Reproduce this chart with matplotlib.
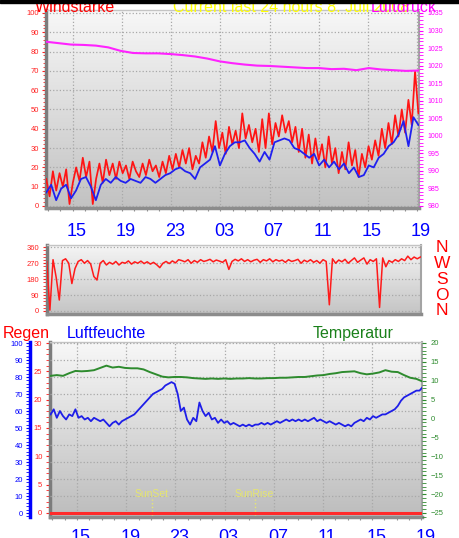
import numpy as np
import matplotlib.pyplot as plt
from matplotlib.ticker import MultipleLocator
from matplotlib.patches import Rectangle
from matplotlib.transforms import ScaledTranslation

plt.rcParams['font.family'] = ['Liberation Sans', 'DejaVu Sans']

# Zeitachse in Stunden ab 15:00 (Vortag)
hour_ticks = [0, 4, 8, 12, 16, 20, 24, 28]
hour_labels = ['15', '19', '23', '03', '07', '11', '15', '19']
t_first, t_last = -2.15, 28.1

# Windstärke (Böen / Mittel), km/h
wind_gust = [14, 5, 18, 8, 17, 10, 19, 1, 12, 20, 13, 25, 15, 23, 1, 14, 22, 12, 24, 16,
             22, 14, 23, 17, 21, 14, 23, 18, 15, 22, 16, 24, 18, 21, 15, 23, 17, 26, 19, 27,
             20, 29, 22, 30, 19, 26, 22, 33, 25, 36, 28, 44, 30, 38, 27, 41, 32, 39, 30, 48,
             35, 42, 33, 40, 28, 45, 30, 48, 32, 43, 36, 47, 38, 44, 33, 41, 28, 40, 25, 37,
             22, 35, 24, 32, 20, 36, 22, 30, 17, 28, 19, 33, 21, 29, 15, 27, 20, 31, 24, 34,
             26, 40, 30, 43, 32, 47, 36, 50, 38, 55, 42, 70, 48]
wind_avg = [7, 11, 3, 9, 11, 4, 8, 14, 15, 10, 3, 11, 14, 12, 15, 13, 12, 14, 13, 12,
            15, 14, 12, 14, 16, 17, 19, 20, 18, 17, 14, 20, 22, 24, 31, 21, 27, 31, 33, 33,
            34, 30, 27, 23, 28, 24, 33, 34, 35, 34, 30, 29, 27, 25, 27, 21, 24, 20, 23, 19,
            22, 17, 20, 15, 16, 21, 20, 25, 27, 31, 33, 37, 44, 31, 46, 42]
# Luftdruck, hPa
pressure = [1026.8, 1026.4, 1026.0, 1025.9, 1025.7, 1025.2, 1024.2, 1023.6, 1023.5, 1023.5,
            1023.3, 1023.0, 1022.6, 1022.0, 1021.2, 1020.7, 1020.3, 1020.0, 1019.9, 1019.7,
            1019.5, 1019.3, 1019.3, 1019.0, 1019.1, 1018.7, 1019.3, 1018.9, 1018.7, 1018.5,
            1018.6]
# Windrichtung, Grad
wind_dir = [280, 5, 290, 190, 62, 285, 295, 270, 155, 240, 280, 290, 270, 285, 265, 195, 175, 270, 285, 260,
            275, 265, 280, 260, 275, 270, 283, 265, 278, 270, 282, 268, 278, 265, 275, 262, 245, 270, 280, 268,
            283, 272, 290, 285, 278, 290, 270, 285, 275, 290, 280, 285, 292, 278, 288, 282, 275, 290, 235, 280,
            292, 283, 295, 280, 290, 278, 287, 292, 275, 290, 283, 295, 278, 290, 282, 288, 275, 290, 280, 285,
            292, 270, 287, 278, 290, 275, 285, 270, 290, 280, 35, 295, 270, 288, 278, 292, 270, 285, 300, 275,
            288, 300, 265, 290, 280, 295, 20, 300, 250, 285, 275, 290, 280, 295, 285, 310, 290, 305, 295, 305]
# Temperatur, °C
temperature = [11.3, 11.5, 11.3, 12.0, 12.6, 12.5, 12.6, 12.8, 13.4, 14.0, 13.5, 13.7, 13.4, 13.3, 13.3,
               13.0, 12.3, 11.7, 11.1, 10.9, 11.0, 11.0, 10.9, 10.7, 10.6, 10.5, 10.6, 10.5, 10.6, 10.5,
               10.6, 10.6, 10.7, 10.6, 10.6, 10.7, 10.7, 10.8, 10.8, 10.9, 11.0, 11.0, 11.2, 11.4, 11.5,
               11.8, 12.0, 12.3, 12.4, 12.5, 12.0, 11.7, 11.9, 12.2, 12.8, 12.4, 12.3, 11.5, 10.8, 10.5, 9.8]
# Luftfeuchte, %
humidity = [58, 61, 56, 60, 57, 55, 58, 57, 61, 56, 57, 55, 56, 54, 56, 55, 54, 55, 53, 51,
            53, 54, 52, 54, 55, 56, 57, 58, 60, 62, 64, 66, 68, 70, 71, 72, 73, 75, 76, 77,
            76, 70, 60, 62, 55, 52, 56, 54, 65, 60, 57, 59, 55, 56, 53, 55, 53, 54, 52, 53,
            52, 51, 52, 51, 52, 51, 52, 52, 53, 52, 53, 52, 53, 54, 53, 54, 55, 54, 55, 54,
            55, 54, 55, 54, 55, 56, 54, 55, 54, 53, 54, 53, 52, 53, 52, 51, 52, 51, 53, 54,
            55, 54, 56, 55, 57, 56, 57, 58, 58, 59, 60, 61, 63, 66, 68, 69, 70, 71, 72, 72, 74]
# Regen, mm
rain = [0, 0, 0, 0, 0, 0, 0, 0, 0, 0, 0, 0, 0, 0, 0, 0]
sunset, sunrise = 6.07, 14.45

W, H = 460, 538
fig = plt.figure(figsize=(W / 100, H / 100), dpi=100)
fig.patch.set_facecolor('white')


def box(x0, y0, x1, y1):
    return [x0 / W, 1 - y1 / H, (x1 - x0) / W, (y1 - y0) / H]


def shade(a, top, bottom):
    g = np.linspace(top, bottom, 200)[:, None]
    a.imshow(np.dstack([g, g, g]), extent=[0, 1, 0, 1], transform=a.transAxes,
             aspect='auto', zorder=0, interpolation='bilinear')


def frame(a):
    a.spines['left'].set(color='#7c7c7c', lw=2.5)
    a.spines['bottom'].set(color='#8c8c8c', lw=2.5)
    a.spines['top'].set(color='#c4c4c4', lw=1)
    a.spines['right'].set(color='#a4a4a4', lw=1.5)


def hide(a):
    for s in a.spines.values():
        s.set_visible(False)


def hours(a, pad):
    a.set_xticks(hour_ticks, hour_labels)
    a.xaxis.set_minor_locator(MultipleLocator(1))
    a.tick_params(axis='x', which='both', color='#909090', length=2.5, width=0.8,
                  labelsize=13, labelcolor='#0000ff', pad=pad)
    off = ScaledTranslation(4 / 100, 0, fig.dpi_scale_trans)
    for lbl in a.get_xticklabels():
        lbl.set_transform(lbl.get_transform() + off)


grid_kw = dict(color='#a8a8a8', ls=':', lw=0.9)

# ---- Wind + Luftdruck ----
ax = fig.add_axes(box(46.5, 10, 419, 208))
shade(ax, 0.97, 0.76)
t = np.linspace(t_first, t_last, len(wind_gust))
ax.plot(t, wind_gust, color='#ff1414', lw=1.25, zorder=3)
t = np.linspace(t_first, t_last, len(wind_avg))
ax.plot(t, wind_avg, color='#2020f0', lw=1.3, zorder=4)
ax.set_xlim(-2.13, 28.15)
ax.set_ylim(-1.04, 101.55)
ax.set_yticks(range(0, 101, 10))
ax.yaxis.set_minor_locator(MultipleLocator(2))
ax.tick_params(axis='y', which='both', colors='#ff2020', labelsize=5.5, length=3, pad=2.5)
ax.tick_params(axis='y', which='minor', length=2.5)
ax.grid(True, which='major', **grid_kw)
frame(ax)
hours(ax, 8)

axp = ax.twinx()
t = np.linspace(t_first, t_last, len(pressure))
axp.plot(t, pressure, color='#ff22ff', lw=1.5)
axp.set_ylim(979.43, 1035.85)
axp.set_yticks(range(980, 1036, 5))
axp.yaxis.set_minor_locator(MultipleLocator(1))
axp.tick_params(axis='y', which='both', colors='#ff00ff', labelsize=5, length=3, pad=3)
hide(axp)

# ---- Windrichtung ----
axd = fig.add_axes(box(47, 245, 421, 314))
shade(axd, 0.96, 0.77)
t = np.linspace(t_first, t_last, len(wind_dir))
axd.plot(t, wind_dir, color='#ff1a1a', lw=1.1, zorder=3)
axd.set_xlim(-2.13, 28.15)
axd.set_ylim(-17, 373)
axd.set_yticks([0, 90, 180, 270, 360])
axd.yaxis.set_minor_locator(MultipleLocator(18))
axd.tick_params(axis='y', which='both', colors='#ff2020', labelsize=5.5, length=3, pad=2.5)
axd.tick_params(axis='x', which='both', bottom=False, labelbottom=False)
axd.grid(True, axis='y', **grid_kw)
frame(axd)
for lab, v in zip(['N', 'W', 'S', 'O', 'N'], [360, 270, 180, 90, 0]):
    axd.text(1.056, v, lab, transform=axd.get_yaxis_transform(), color='#ff0000',
             fontsize=12.5, ha='center', va='center')

# ---- Regen / Luftfeuchte / Temperatur ----
axb = fig.add_axes(box(50, 342, 422, 517))
shade(axb, 0.97, 0.74)
axb.set_xlim(-2.2, 28.05)
axb.set_ylim(-0.71, 30.18)
axb.set_yticks(range(0, 31, 5))
axb.yaxis.set_minor_locator(MultipleLocator(1))
axb.tick_params(axis='y', which='both', colors='#ff2020', labelsize=5.5, length=3, pad=2.5)
axb.grid(True, axis='x', which='major', **grid_kw)
frame(axb)
hours(axb, 6)

axh = axb.twinx()
axh.yaxis.tick_left()
axh.set_ylim(-2.35, 100.59)
axh.set_yticks(range(0, 101, 10))
axh.yaxis.set_minor_locator(MultipleLocator(2))
axh.tick_params(axis='y', which='both', colors='#0000ff', labelsize=5.5, length=3, pad=2)
axh.grid(True, axis='y', which='major', **grid_kw)
hide(axh)
axh.spines['left'].set_visible(True)
axh.spines['left'].set_position(('axes', (30 - 50) / 372))
axh.spines['left'].set(color='#0000ff', lw=2.5)
t = np.linspace(t_first, t_last, len(humidity))
axh.plot(t, humidity, color='#1e1ee8', lw=1.3)

axt = axb.twinx()
axt.set_ylim(-26.06, 20.26)
axt.set_yticks(range(-25, 21, 5))
axt.yaxis.set_minor_locator(MultipleLocator(1))
axt.tick_params(axis='y', which='both', colors='#2e8b2e', labelsize=5.5, length=3, pad=3)
hide(axt)
t = np.linspace(t_first, t_last, len(temperature))
axt.plot(t, temperature, color='#2e8b2e', lw=1.4)
t = np.linspace(-2.2, 28.05, len(rain))
axt.plot(t, rain, color='#ff2a2a', lw=2.2, transform=axb.transData, zorder=5)
axt.set_ylim(-26.06, 20.26)

for tx, name in [(sunset, 'SunSet'), (sunrise, 'SunRise')]:
    axt.plot([tx, tx], [0.01, 0.103], transform=axt.get_xaxis_transform(),
             color='#e8e870', ls=':', lw=1)
    axt.text(tx, 0.134, name, transform=axt.get_xaxis_transform(), color='#e6e66e',
             fontsize=7.5, ha='center', va='center')

# ---- Überschriften ----
base = 1 - 12 / H
fig.text(35 / W, base, 'Windstärke', color='#ff0000', fontsize=11.5, va='baseline')
fig.text(173 / W, base, 'Current last 24 hours 8. Juli 2008', color='#ffff00', fontsize=11.5, va='baseline')
fig.text(437 / W, base, 'Luftdruck', color='#ff00ff', fontsize=11.5, va='baseline', ha='right')
base = 1 - 338 / H
fig.text(3 / W, base, 'Regen', color='#ff0000', fontsize=11.5, va='baseline')
fig.text(67 / W, base, 'Luftfeuchte', color='#0000ff', fontsize=11.5, va='baseline')
fig.text(313 / W, base, 'Temperatur', color='#1a801a', fontsize=11.5, va='baseline')
fig.add_artist(Rectangle((0, 1 - 3 / H), 1, 3 / H, transform=fig.transFigure,
                         color='black', zorder=10))

fig.savefig('out.png', dpi=100)
